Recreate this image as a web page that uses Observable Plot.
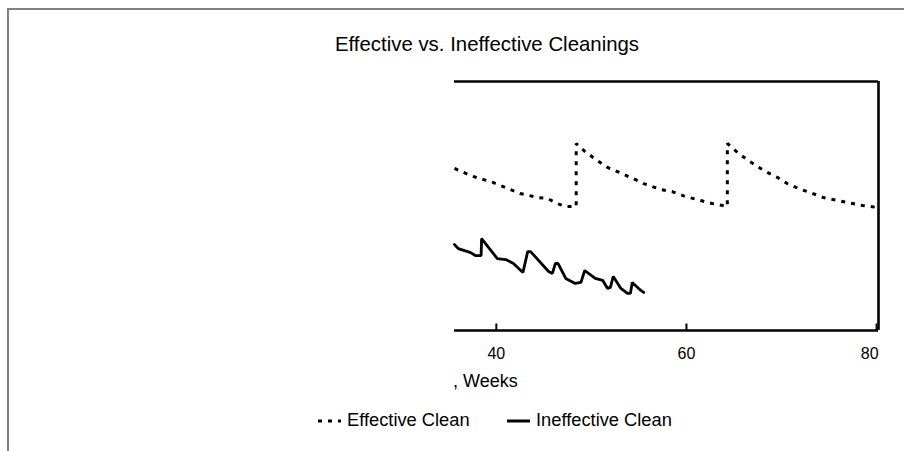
<!DOCTYPE html>
<html>
<head>
<meta charset="utf-8">
<script src="https://cdn.jsdelivr.net/npm/d3@7"></script>
<script src="https://cdn.jsdelivr.net/npm/@observablehq/plot@0.6"></script>
<style>
  html, body { margin: 0; padding: 0; background: #fff; }
  #wrap { position: relative; width: 904px; height: 451px; overflow: hidden; font-family: "Liberation Sans", Arial, sans-serif; color: #000; }
  #wrap svg.plot { position: absolute; left: 0; top: 0; }
  #wrap svg.plot text { font-size: 16px !important; fill: #000; }
  .bt { position: absolute; left: 7px; top: 8px; width: 897px; height: 2px; background: #808080; }
  .bl { position: absolute; left: 7px; top: 8px; width: 2px; height: 443px; background: #808080; }
  #title { position: absolute; left: 0; width: 974px; top: 33px; text-align: center; font-size: 20.4px; white-space: nowrap; }
  #xlabel { position: absolute; left: 453px; top: 371px; font-size: 18px; white-space: nowrap; }
  #legend { position: absolute; top: 409px; left: 0; width: 904px; font-size: 18.3px; white-space: nowrap; }
  .item { position: absolute; display: flex; align-items: center; }
  .item svg { margin-right: 4px; }
</style>
</head>
<body>
<div id="wrap">
  <div class="bt"></div>
  <div class="bl"></div>
  <div id="title">Effective vs. Ineffective Cleanings</div>
  <div id="xlabel">, Weeks</div>
  <div id="legend"></div>
</div>
<script>
// ---- data ----
const xTicks = [40, 60, 80];

const effWeeks  = [35.6, 37.3, 38.3, 39.7, 41.5, 42.5, 44.4, 45.4, 46.4, 47.3, 48.4, 48.4, 49.2, 50.6, 51.7, 53.4, 54.4, 55.5, 57.3, 58.5, 59.9, 61.5, 62.7, 64.3, 64.3, 65.5, 66.5, 67.6, 68.5, 69.6, 70.6, 71.8, 73.3, 74.4, 75.9, 77.5, 78.5, 80.1];
const effValues = [65.1, 62.2, 61.0, 59.4, 56.6, 55.0, 53.4, 53.0, 51.0, 49.8, 49.8, 75.1, 72.3, 68.3, 65.5, 62.7, 61.0, 59.0, 56.6, 55.8, 53.8, 52.2, 51.0, 49.8, 75.1, 71.1, 68.3, 65.5, 63.5, 61.4, 59.0, 57.0, 55.0, 53.4, 52.2, 51.0, 50.2, 49.4];

const ineffWeeks  = [35.6, 36.0, 37.3, 37.8, 38.4, 38.45, 40.1, 41.0, 41.8, 42.8, 43.3, 43.6, 45.5, 45.9, 46.2, 46.5, 47.3, 48.3, 48.9, 49.3, 50.4, 51.2, 51.7, 52.0, 52.3, 53.1, 53.8, 54.1, 54.3, 55.2, 55.5];
const ineffValues = [34.5, 32.9, 31.3, 30.1, 30.1, 36.9, 28.9, 28.5, 26.9, 23.3, 31.7, 31.7, 23.7, 22.9, 26.9, 26.9, 20.9, 18.9, 19.3, 24.1, 20.9, 20.1, 16.9, 17.3, 21.7, 16.9, 14.9, 14.9, 19.3, 16.1, 15.3];

const seriesNames = ["Effective Clean", "Ineffective Clean"];

const eff = effWeeks.map((w, i) => ({week: w, value: effValues[i]}));
const ineff = ineffWeeks.map((w, i) => ({week: w, value: ineffValues[i]}));

const xDomain = [35.6, 80.2];
const yDomain = [0, 100];
const lastTick = xTicks[xTicks.length - 1];

const chart = Plot.plot({
  width: 904,
  height: 451,
  marginLeft: 454,
  marginRight: 26,
  marginTop: 81,
  marginBottom: 121,
  style: { fontFamily: "'Liberation Sans', Arial, sans-serif", fontSize: "16px", color: "#000", background: "transparent" },
  x: { domain: xDomain },
  y: { domain: yDomain, axis: null },
  marks: [
    Plot.axisX({ ticks: xTicks.slice(0, -1), tickSize: 0, tickPadding: 17, tickFormat: d => String(d), label: null, fontSize: 16 }),
    Plot.axisX({ ticks: [lastTick], tickSize: 0, tickPadding: 17, tickFormat: d => String(d), label: null, fontSize: 16, textAnchor: "end", dx: 2 }),
    Plot.ruleX(xTicks, { x: d => d, y1: 0, y2: 2.6, stroke: "#000", strokeWidth: 2 }),
    Plot.ruleY([yDomain[0]], { x1: xDomain[0], x2: xDomain[1], stroke: "#000", strokeWidth: 2.6 }),
    Plot.ruleY([yDomain[1]], { x1: xDomain[0], x2: xDomain[1], stroke: "#000", strokeWidth: 2.6 }),
    Plot.ruleX([xDomain[1]], { y1: yDomain[0], y2: yDomain[1], stroke: "#000", strokeWidth: 2.6 }),
    Plot.line(eff, { x: "week", y: "value", stroke: "#000", strokeWidth: 3, strokeDasharray: "4,6", strokeLinecap: "butt", strokeLinejoin: "miter" }),
    Plot.line(ineff, { x: "week", y: "value", stroke: "#000", strokeWidth: 2.8, strokeLinejoin: "miter" })
  ]
});
chart.classList.add("plot");
document.getElementById("wrap").insertBefore(chart, document.getElementById("title"));

// legend
const legend = document.getElementById("legend");
const items = [
  { name: seriesNames[0], left: 317, dash: "4,6", width: 3 },
  { name: seriesNames[1], left: 506, dash: null, width: 3 }
];
items.forEach(it => {
  const div = document.createElement("div");
  div.className = "item";
  div.style.left = it.left + "px";
  div.style.top = "0px";
  const ns = "http://www.w3.org/2000/svg";
  const s = document.createElementNS(ns, "svg");
  s.setAttribute("width", 26); s.setAttribute("height", 20);
  const l = document.createElementNS(ns, "line");
  l.setAttribute("x1", 1); l.setAttribute("x2", 24); l.setAttribute("y1", 11); l.setAttribute("y2", 11);
  l.setAttribute("stroke", "#000"); l.setAttribute("stroke-width", it.width);
  if (it.dash) l.setAttribute("stroke-dasharray", it.dash);
  s.appendChild(l);
  div.appendChild(s);
  const t = document.createElement("span");
  t.textContent = it.name;
  div.appendChild(t);
  legend.appendChild(div);
});
</script>
</body>
</html>
